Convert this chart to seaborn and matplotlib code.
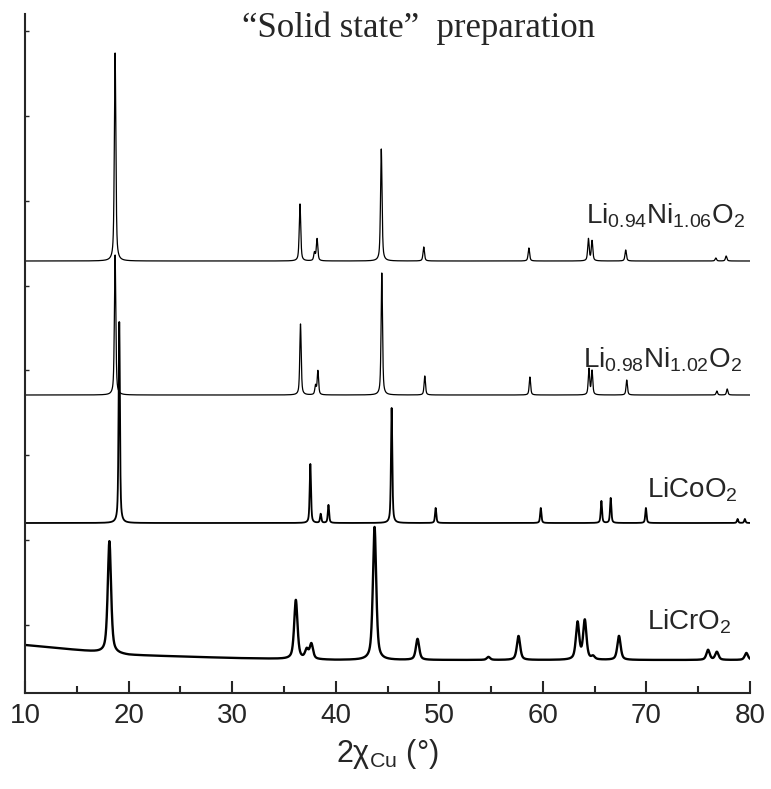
import numpy as np
import pandas as pd
import matplotlib
matplotlib.use('Agg')
import matplotlib.pyplot as plt
import seaborn as sns

# Posiciones (2 theta) y alturas de los picos (unidades arbitrarias)
pos_ni094 = [18.70, 36.55, 37.95, 38.20, 44.40, 48.50, 58.65, 64.40, 64.75, 68.00, 76.70, 77.70]
alt_ni094 = [208, 57, 8, 22, 112, 14, 13, 22, 20, 11, 3, 5]

pos_ni098 = [18.70, 36.60, 38.05, 38.28, 44.45, 48.60, 58.75, 64.45, 64.75, 68.10, 76.80, 77.80]
alt_ni098 = [140, 71, 9, 24, 122, 19, 18, 26, 24, 15, 4, 6]

pos_co = [19.10, 37.55, 38.55, 39.30, 45.40, 49.65, 59.80, 65.65, 66.55, 69.95, 78.80, 79.50]
alt_co = [201, 59, 9, 18, 115, 15, 15, 22, 25, 15, 4, 4]

pos_cr = [18.15, 36.15, 37.20, 37.65, 43.75, 47.90, 54.75, 57.65, 63.35, 64.05, 64.85, 67.35, 75.95, 76.80, 79.65]
alt_cr = [112, 59, 9, 15, 133, 21, 3, 24, 37, 39, 3, 24, 10, 8, 7]

# Fondo del LiCrO2 (decae a bajo ángulo)
fondo_cr_x = [10, 15, 20, 30, 40, 80]
fondo_cr_y = [48, 43, 38, 35, 33, 33]

# Desplazamientos verticales de cada patrón
base_ni094 = 432
base_ni098 = 298
base_co = 170

etiquetas = ['Li$_{0.94}$Ni$_{1.06}$O$_{2}$', 'Li$_{0.98}$Ni$_{1.02}$O$_{2}$',
             'LiCoO$_{2}$', 'LiCrO$_{2}$']

x = np.arange(10, 80.001, 0.01)


def perfil(pos, alt, fwhm, eta=0.6):
    y = np.zeros_like(x)
    for p, h in zip(pos, alt):
        d = (x - p) / (fwhm / 2)
        y += h * (eta / (1 + d ** 2) + (1 - eta) * np.exp(-np.log(2) * d ** 2))
    return y


patrones = {
    etiquetas[0]: base_ni094 + perfil(pos_ni094, alt_ni094, 0.17),
    etiquetas[1]: base_ni098 + perfil(pos_ni098, alt_ni098, 0.16),
    etiquetas[2]: base_co + perfil(pos_co, alt_co, 0.15),
    etiquetas[3]: np.interp(x, fondo_cr_x, fondo_cr_y) + perfil(pos_cr, alt_cr, 0.38),
}
grosores = {etiquetas[0]: 0.9, etiquetas[1]: 0.9, etiquetas[2]: 1.3, etiquetas[3]: 1.7}

df = pd.concat([pd.DataFrame({'x': x, 'y': v, 'muestra': k}) for k, v in patrones.items()])

sns.set_style('ticks')
plt.rcParams['font.family'] = ['Liberation Sans', 'DejaVu Sans']
plt.rcParams['mathtext.fontset'] = 'custom'
plt.rcParams['mathtext.rm'] = 'Liberation Sans'
plt.rcParams['mathtext.it'] = 'Liberation Sans:italic'

fig = plt.figure(figsize=(7.71, 7.89), dpi=100)
ax = fig.add_axes([25 / 771, 96 / 789, 725 / 771, 679 / 789])

for m in etiquetas:
    sns.lineplot(data=df[df['muestra'] == m], x='x', y='y', color='black',
                 linewidth=grosores[m], estimator=None, sort=False, ax=ax)

ax.set_xlim(10, 80)
ax.set_ylim(0, 679)
ax.set_xticks(range(10, 81, 10))
ax.set_xticks(range(15, 80, 10), minor=True)
ax.set_yticks([68, 153, 238, 323, 407, 492, 577, 662])
ax.set_yticklabels([])
ax.tick_params(axis='x', which='major', direction='in', length=8.5, width=1.5,
               labelsize=20, pad=7)
ax.tick_params(axis='x', which='minor', direction='in', length=5, width=1.5)
ax.tick_params(axis='y', direction='in', length=3, width=1)
sns.despine(ax=ax)
ax.spines['left'].set_linewidth(1.5)
ax.spines['bottom'].set_linewidth(1.5)

ax.set_xlabel('2χ$_{\\mathrm{Cu}}$ (°)', fontsize=22, labelpad=6)
ax.set_ylabel('')

# Etiquetas de cada patrón
ax.text(64.17, 470, etiquetas[0], fontsize=20, va='baseline')
ax.text(63.88, 326, etiquetas[1], fontsize=20, va='baseline')
ax.text(70.06, 196, etiquetas[2], fontsize=20, va='baseline')
ax.text(70.06, 63, etiquetas[3], fontsize=20, va='baseline')

fig.text(419 / 771, 1 - 37 / 789, '\u201cSolid state\u201d  preparation',
         family=['Liberation Serif', 'DejaVu Serif'], fontsize=25,
         ha='center', va='baseline')

plt.savefig('out.png', dpi=100)
